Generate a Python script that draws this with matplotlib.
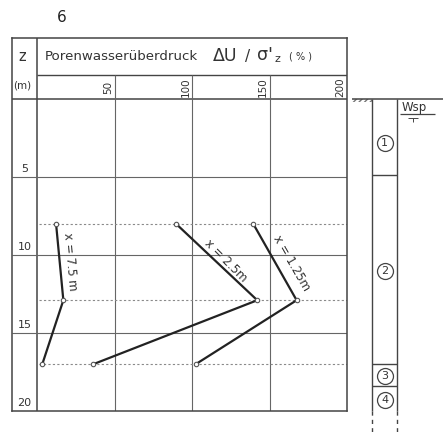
import matplotlib
matplotlib.use("Agg")
import matplotlib.pyplot as plt
from matplotlib.patches import Rectangle

# ---- data ----
z_levels = [8.0, 12.9, 17.0]            # depth of measuring points (m)
du_75 = [12.3, 17.0, 3.4]               # x = 7.5 m
du_25 = [89.7, 142.1, 36.3]             # x = 2.5 m
du_125 = [139.5, 167.5, 102.4]          # x = 1.25 m
series_labels = ["x = 7.5 m", "x = 2.5m", "x = 1.25m"]
x_ticks = [50, 100, 150, 200]
z_ticks = [5, 10, 15, 20]
layer_bounds = [0, 4.9, 17.0, 18.4, 20]
layer_names = ["1", "2", "3", "4"]
layer_label_z = [2.8, 11.0, 17.75, 19.3]

txt = "#333333"
grid_c = "#666666"
frame_c = "#444444"

fig = plt.figure(figsize=(4.43, 4.32), dpi=100)
fig.patch.set_facecolor("white")

# main table axes (includes z column and header)
X0 = -16.13
ZTOP = -3.91
ZMID = -1.54
ax = fig.add_axes([12/443, 1-411/432, 335/443, 373/432])
ax.set_xlim(X0, 200)
ax.set_ylim(20, ZTOP)
ax.set_xticks([]); ax.set_yticks([])
for s in ax.spines.values():
    s.set_color(frame_c); s.set_linewidth(1.1)

# frame structure
ax.vlines(0, ZTOP, 20, color=frame_c, lw=1.1)
ax.hlines(0, X0, 200, color=frame_c, lw=1.1)
ax.hlines(ZMID, 0, 200, color=frame_c, lw=1.0)
ax.vlines(x_ticks[:-1], ZMID, 20, color=grid_c, lw=0.8)
ax.hlines(z_ticks[:-1], X0, 200, color=grid_c, lw=0.8)

# dotted measuring levels
ax.hlines(z_levels, 1, 200, color="#8a8a8a", lw=0.8, linestyles=(0, (2, 2)))

# header texts
ax.text(-9.7, -2.7, "z", ha="center", va="center", fontsize=10.5, color=txt)
ax.text(-9.7, -0.85, "(m)", ha="center", va="center", fontsize=7.5, color=txt)
ax.text(5.2, -2.75, "Porenwasserüberdruck", ha="left", va="center",
        fontsize=9.6, color=txt)
ax.text(113.5, -2.75, "ΔU", ha="left", va="center", fontsize=12.5, color=txt)
ax.text(134.0, -2.75, "/", ha="left", va="center", fontsize=11, color=txt)
ax.text(142.0, -2.8, "σ'", ha="left", va="center", fontsize=12.5, color=txt)
ax.text(153.0, -2.55, "z", ha="left", va="center", fontsize=8, color=txt)
ax.text(162.5, -2.75, "( % )", ha="left", va="center", fontsize=7, color=txt)

for v in x_ticks:
    ax.text(v - 4.3, -0.77, str(v), ha="center", va="center", rotation=90,
            fontsize=7.5, color=txt)
for v in z_ticks:
    ax.text(-8.1, v - 0.5, str(v), ha="center", va="center",
            fontsize=8, color=txt)

# data lines
for vals in (du_75, du_25, du_125):
    ax.plot(vals, z_levels, color="#222222", lw=1.6, zorder=3,
            marker="o", markersize=3.2, mfc="white", mec="#555555", mew=0.8)

label_pos = [(21.2, 10.45, -85), (121.9, 10.4, -45), (164.5, 10.5, -60)]
for lab, (lx, lz, rot) in zip(series_labels, label_pos):
    ax.text(lx, lz, lab, ha="center", va="center", rotation=rot,
            rotation_mode="anchor", fontsize=8.5, color=txt)

# number top-left
fig.text(62/443, 1-17/432, "6", ha="center", va="center", fontsize=11,
         color="#222222")

# soil column axes
sx = fig.add_axes([351/443, 1-411/432, 92/443, 312/432])
sx.set_xlim(0, 92)
sx.set_ylim(20, 0)
sx.axis("off")
cl, cr = 21, 46
sx.hlines(0, 1, 92, color=frame_c, lw=1.1, clip_on=False)
sx.add_patch(Rectangle((1, 0), cl - 1, 0.22, fill=False, hatch="//////",
                       edgecolor="#777777", lw=0, clip_on=False))
sx.vlines([cl, cr], 0, 20, color=frame_c, lw=1.0, clip_on=False)
sx.vlines([cl, cr], 20, 21.5, color=frame_c, lw=1.0, clip_on=False,
          linestyles=(0, (3, 3)))
sx.hlines(layer_bounds[1:-1], cl, cr, color=frame_c, lw=1.0)
for name, lz in zip(layer_names, layer_label_z):
    sx.plot([(cl + cr) / 2], [lz], marker="o", markersize=11.5, mfc="white",
            mec="#444444", mew=0.9, clip_on=False)
    sx.text((cl + cr) / 2, lz, name, ha="center", va="center", fontsize=8,
            color=txt)
sx.text(51, 0.55, "Wsp", ha="left", va="center", fontsize=8.5, color=txt)
sx.hlines(0.98, 49, 84, color=frame_c, lw=0.9)
sx.hlines(1.2, 57, 67, color=frame_c, lw=0.7)
sx.vlines(62, 1.2, 1.45, color=frame_c, lw=0.7)

fig.savefig("out.png", dpi=100)
